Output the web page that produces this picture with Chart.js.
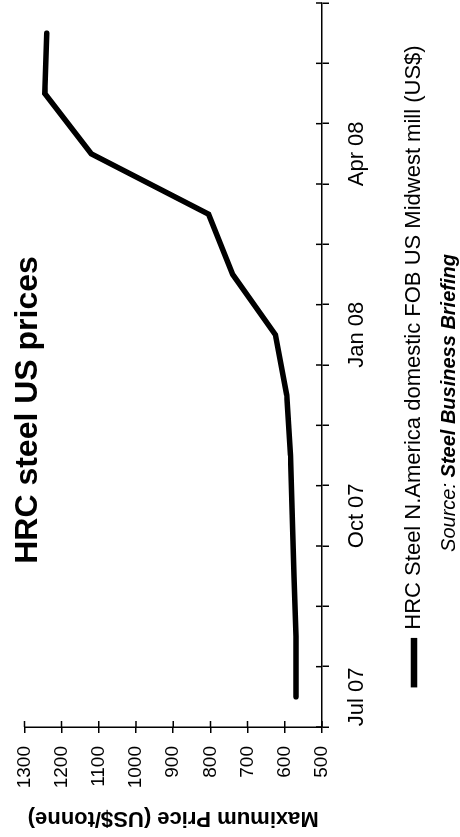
<!DOCTYPE html>
<html>
<head>
<meta charset="utf-8">
<script src="https://cdn.jsdelivr.net/npm/chart.js@4.4.0/dist/chart.umd.min.js"></script>
<style>
  html, body { margin: 0; padding: 0; background: #fff; }
  #page { position: relative; width: 460px; height: 837px; overflow: hidden; background: #fff; }
  /* the chart is laid out landscape and turned a quarter turn anticlockwise */
  #turn { position: absolute; left: 0; top: 0; width: 837px; height: 460px;
          transform-origin: 0 0; transform: translateY(837px) rotate(-90deg); }
  canvas { display: block; }
</style>
</head>
<body>
<div id="page"><div id="turn"><canvas id="c" width="837" height="460"></canvas></div></div>
<script>
// Monthly categories and the labelled subset
const months = ['Jul 07', 'Aug 07', 'Sep 07', 'Oct 07', 'Nov 07', 'Dec 07',
                'Jan 08', 'Feb 08', 'Mar 08', 'Apr 08', 'May 08', 'Jun 08'];
const shownMonths = ['Jul 07', 'Oct 07', 'Jan 08', 'Apr 08'];

// HRC steel maximum price, US$/tonne
const hrcPrices = [570, 570, 575, 580, 585, 595, 625, 740, 805, 1120, 1245, 1240];

// Price axis tick values
const priceTicks = [500, 600, 700, 800, 900, 1000, 1100, 1200, 1300];

const chartTitle = 'HRC steel US prices';
const seriesName = 'HRC Steel N.America domestic FOB US Midwest mill (US$)';
const priceAxisTitle = 'Maximum Price (US$/tonne)';
const sourcePrefix = 'Source: ';
const sourceName = 'Steel Business Briefing';

const FONT = "'Liberation Sans', Arial, Helvetica, sans-serif";
Chart.defaults.font.family = FONT;
Chart.defaults.color = '#000';

// Short tick marks on the inner side of both axes, so ticks cross the axis lines
const crossTicks = {
  id: 'crossTicks',
  afterDraw(chart) {
    const { ctx, chartArea: a, scales: { x, y } } = chart;
    ctx.save();
    ctx.strokeStyle = '#000';
    ctx.lineWidth = 1.5;
    ctx.beginPath();
    for (let i = 0; i <= months.length; i++) {
      const px = x.getPixelForValue(i - 0.5);
      ctx.moveTo(px, a.bottom);
      ctx.lineTo(px, a.bottom - 6);
    }
    y.ticks.forEach(t => {
      const py = y.getPixelForValue(t.value);
      ctx.moveTo(a.left, py);
      ctx.lineTo(a.left + 6, py);
    });
    ctx.stroke();
    ctx.restore();
  }
};

// Heading inside the plot and the source line under the legend
const captions = {
  id: 'captions',
  afterDraw(chart) {
    const ctx = chart.ctx;
    ctx.save();
    ctx.fillStyle = '#000';
    ctx.textBaseline = 'alphabetic';
    ctx.textAlign = 'center';
    ctx.font = `bold 32px ${FONT}`;
    ctx.fillText(chartTitle, 427, 37);

    const f1 = `italic 20px ${FONT}`;
    const f2 = `italic bold 20px ${FONT}`;
    ctx.font = f1;
    const w1 = ctx.measureText(sourcePrefix).width;
    ctx.font = f2;
    const w2 = ctx.measureText(sourceName).width;
    const x0 = 434 - (w1 + w2) / 2;
    ctx.textAlign = 'left';
    ctx.font = f1;
    ctx.fillText(sourcePrefix, x0, 455);
    ctx.font = f2;
    ctx.fillText(sourceName, x0 + w1, 455);
    ctx.restore();
  }
};

new Chart(document.getElementById('c'), {
  type: 'line',
  data: {
    labels: months,
    datasets: [{
      label: seriesName,
      data: hrcPrices,
      borderColor: '#000',
      backgroundColor: '#000',
      borderWidth: 5.5,
      pointRadius: 0,
      tension: 0,
      borderCapStyle: 'round',
      borderJoinStyle: 'miter'
    }]
  },
  options: {
    responsive: false,
    animation: false,
    devicePixelRatio: 1,
    layout: { padding: { left: 0, right: 3, top: 17, bottom: 25 } },
    plugins: {
      legend: {
        position: 'bottom',
        fullSize: false,
        labels: { font: { size: 22 }, color: '#000', boxWidth: 44, boxHeight: 1, padding: 21 }
      },
      tooltip: { enabled: false },
      title: { display: false }
    },
    scales: {
      x: {
        offset: true,
        border: { display: true, color: '#000', width: 1.5 },
        grid: { offset: true, drawOnChartArea: false, color: '#000', lineWidth: 1.5, tickLength: 7 },
        ticks: {
          autoSkip: false,
          maxRotation: 0,
          padding: 15,
          font: { size: 22 },
          color: '#000',
          callback(value, index) {
            const label = months[index];
            return shownMonths.includes(label) ? label : '';
          }
        },
        afterFit(scale) { scale.height = 60; }
      },
      y: {
        min: priceTicks[0],
        max: priceTicks[priceTicks.length - 1],
        border: { display: true, color: '#000', width: 1.5 },
        grid: { drawOnChartArea: false, color: '#000', lineWidth: 1.5, tickLength: 6 },
        afterBuildTicks(scale) { scale.ticks = priceTicks.map(v => ({ value: v })); },
        ticks: {
          padding: 13,
          font: { size: 19 },
          color: '#000',
          callback(value) { return String(value); }
        },
        title: {
          display: true,
          text: priceAxisTitle,
          color: '#000',
          font: { size: 22, weight: 'bold' },
          padding: { top: 6, bottom: 0 }
        },
        afterFit(scale) { scale.width = 110; }
      }
    }
  },
  plugins: [crossTicks, captions]
});
</script>
</body>
</html>
